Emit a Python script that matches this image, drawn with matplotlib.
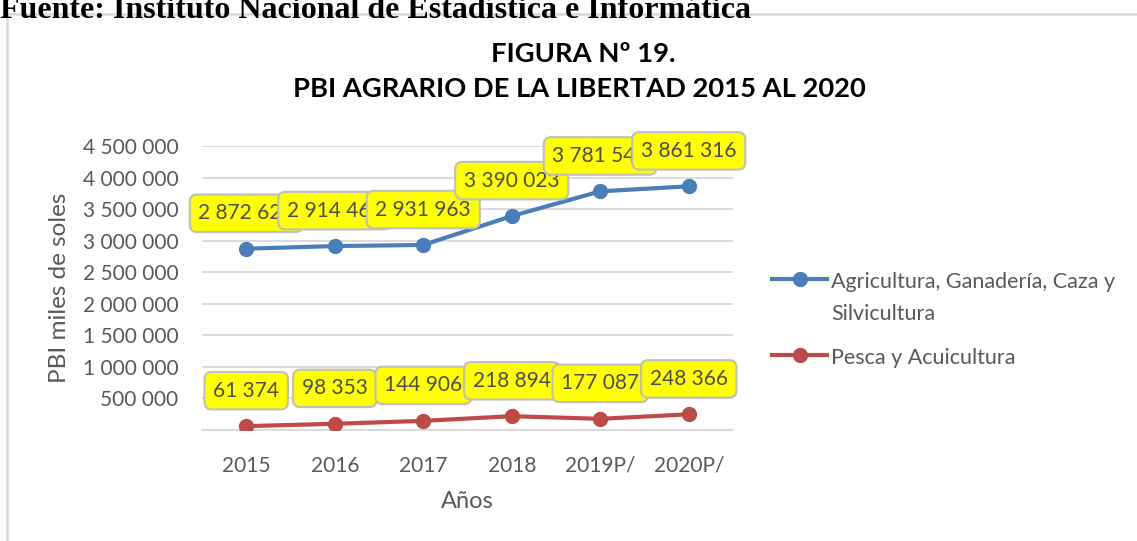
import matplotlib
matplotlib.use("Agg")
import matplotlib.pyplot as plt
from matplotlib.patches import Rectangle
from matplotlib.lines import Line2D
from matplotlib.ticker import FuncFormatter

years = ["2015", "2016", "2017", "2018", "2019P/", "2020P/"]
agri = [2872620, 2914460, 2931963, 3390023, 3781540, 3861316]
pesca = [61374, 98353, 144906, 218894, 177087, 248366]
series_names = ["Agricultura, Ganadería, Caza y\nSilvicultura", "Pesca y Acuicultura"]
title_lines = ["FIGURA Nº 19.", "PBI AGRARIO DE LA LIBERTAD 2015 AL 2020"]
source = "Fuente: Instituto Nacional de Estadística e Informática"
y_title = "PBI miles de soles"
x_title = "Años"

FONT = ["Lato", "DejaVu Sans"]
TXT = "#595959"
BLUE = "#4A7EBB"
RED = "#BE4B48"

W, H = 1137, 541
fig = plt.figure(figsize=(W / 100, H / 100), dpi=100)
fig.patch.set_facecolor("white")

def fx(px):
    return px / W

def fy(py):
    return 1 - py / H

# chart border
fig.add_artist(Rectangle((fx(7), -0.05), 1.2, fy(14) + 0.05, transform=fig.transFigure,
                         fill=False, edgecolor="#D9D9D9", linewidth=1.8))
fig.text(0.0, fy(18), source, family="Liberation Serif", weight="bold",
         fontsize=23, va="baseline", ha="left", color="black")

fig.text(fx(583), fy(62), title_lines[0], family=FONT, weight="bold",
         fontsize=19.7, ha="center", va="baseline", color="black")
fig.text(fx(579), fy(97), title_lines[1], family=FONT, weight="bold",
         fontsize=19.7, ha="center", va="baseline", color="black")

left, right, top, bottom = 202, 733, 146, 430
ax = fig.add_axes([fx(left), fy(bottom), (right - left) / W, (bottom - top) / H])
x = list(range(len(years)))
ax.set_xlim(-0.5, len(years) - 0.5)
ax.set_ylim(0, 4500000)
ax.set_yticks(range(0, 4500001, 500000))
ax.yaxis.set_major_formatter(FuncFormatter(lambda v, p: "" if v == 0 else f"{int(v):,}".replace(",", " ")))
ax.set_xticks(x)
ax.set_xticklabels(years)
ax.grid(axis="y", color="#D9D9D9", linewidth=1.3)
ax.set_axisbelow(True)
for s in ["top", "right", "left"]:
    ax.spines[s].set_visible(False)
ax.spines["bottom"].set_color("#D9D9D9")
ax.spines["bottom"].set_linewidth(1.3)
ax.tick_params(length=0, labelsize=15, labelcolor=TXT)
ax.tick_params(axis="x", pad=18.5)
ax.tick_params(axis="y", pad=17)
for lab in ax.get_xticklabels() + ax.get_yticklabels():
    lab.set_family(FONT)

ax.plot(x, agri, color=BLUE, lw=3, marker="o", ms=10, zorder=3)
ax.plot(x, pesca, color=RED, lw=3, marker="o", ms=10, zorder=3)

for vals in (agri, pesca):
    for xi, v in zip(x, vals):
        ax.annotate(f"{v:,}".replace(",", " "), (xi, v), xytext=(0, 25.5), textcoords="offset points",
                    ha="center", va="center", fontsize=15, family=FONT, color="#4D4D4D",
                    bbox=dict(boxstyle="round,pad=0.42,rounding_size=0.35", fc="#FFFF00",
                              ec="#BFBFBF", lw=1.5),
                    annotation_clip=False, zorder=5)

fig.text(fx(60), fy(288), y_title, rotation=90, family=FONT, fontsize=17.5, color=TXT,
         ha="center", va="center")
fig.text(fx(467), fy(502), x_title, family=FONT, fontsize=17, color=TXT,
         ha="center", va="center")

# legend
leg_items = [(series_names[0], BLUE, 279), (series_names[1], RED, 355)]
for name, col, yy in leg_items:
    fig.add_artist(Line2D([fx(772), fx(827)], [fy(yy), fy(yy)], color=col, lw=3,
                          transform=fig.transFigure))
    fig.add_artist(Line2D([fx(799.5)], [fy(yy)], color=col, marker="o", ms=10,
                          transform=fig.transFigure))
    fig.text(fx(831), fy(yy - 6.5), name, family=FONT, fontsize=15.5, color=TXT,
             ha="left", va="top", linespacing=1.72)

fig.savefig("out.png", dpi=100)
